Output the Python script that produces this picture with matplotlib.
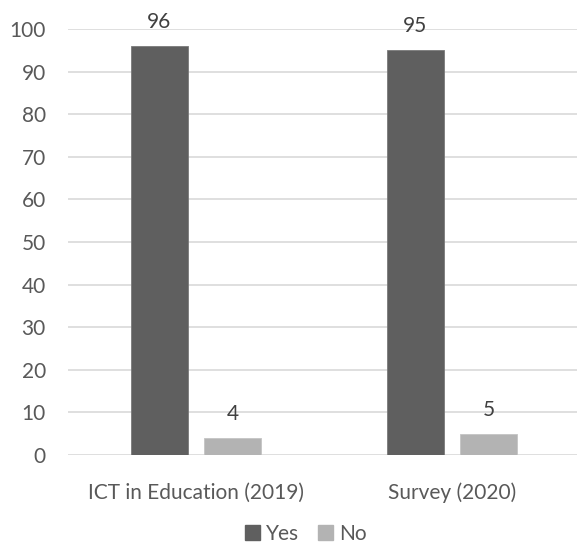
import numpy as np
import matplotlib.pyplot as plt
from matplotlib.patches import Patch

categories = ['ICT in Education (2019)', 'Survey (2020)']
yes_vals = [96, 95]
no_vals = [4, 5]

plt.rcParams['font.family'] = ['Lato', 'DejaVu Sans']

fig = plt.figure(figsize=(5.77, 5.44), dpi=100)
ax = fig.add_axes([68 / 577, (544 - 455) / 544, 509 / 577, (455 - 29) / 544])

x = np.arange(len(categories))
w = 0.223
off = 0.143
text_col = '#595959'
fs = 15

b1 = ax.bar(x - off, yes_vals, w, color='#5f5f5f', edgecolor='#7a7a7a', linewidth=0.6, zorder=3)
b2 = ax.bar(x + off, no_vals, w, color='#b3b3b3', edgecolor='#c4c4c4', linewidth=0.6, zorder=3)

for bars in (b1, b2):
    for rect in bars:
        ax.annotate(f'{rect.get_height():g}', (rect.get_x() + rect.get_width() / 2, rect.get_height()),
                    xytext=(0, 10), textcoords='offset points', ha='center', va='bottom',
                    fontsize=fs, color='#404040')

ax.set_xlim(-0.5, -0.5 + 509 / 256)
ax.set_ylim(0, 100)
ax.set_yticks(range(0, 101, 10))
ax.set_xticks(x)
ax.set_xticklabels(categories)
ax.yaxis.grid(True, color='#d9d9d9', linewidth=1.2, zorder=0)
ax.set_axisbelow(True)
for s in ax.spines.values():
    s.set_visible(False)
ax.tick_params(axis='both', length=0, labelsize=fs, colors=text_col)
ax.tick_params(axis='x', pad=20)
ax.tick_params(axis='y', pad=16)

handles = [Patch(color='#5f5f5f', label='Yes'), Patch(color='#b3b3b3', label='No')]
fig.legend(handles=handles, loc='center', bbox_to_anchor=(0.53, 1 - 534 / 544), ncol=2,
           frameon=False, fontsize=fs, labelcolor=text_col, handlelength=0.7, handleheight=0.7,
           handletextpad=0.3, columnspacing=0.9, borderpad=0.1)

fig.savefig('out.png', dpi=100)
